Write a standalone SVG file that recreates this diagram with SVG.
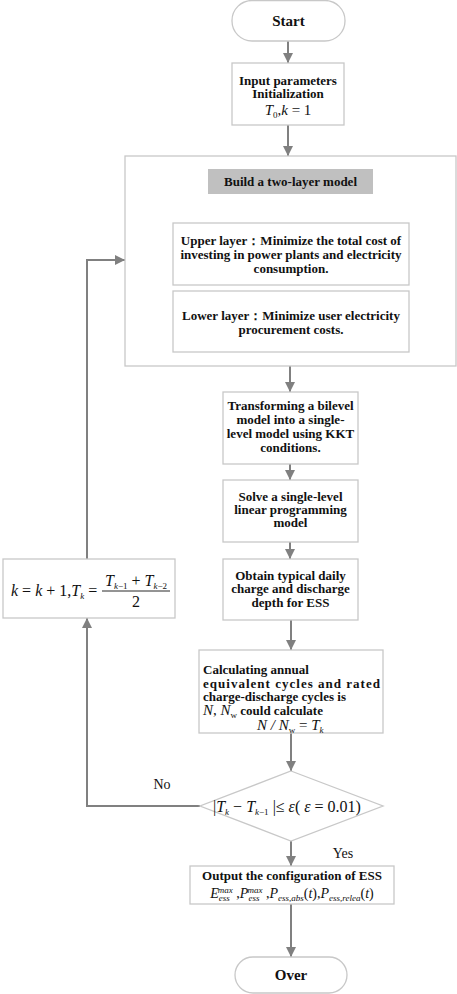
<svg xmlns="http://www.w3.org/2000/svg" width="457" height="994" viewBox="0 0 457 994">
<style>
.box{fill:#fff;stroke:#c8c8c8;stroke-width:1.3}
.t{font-family:"Liberation Serif","DejaVu Serif",serif;font-weight:bold;font-size:13px;fill:#111;text-anchor:middle}
.m{font-family:"Liberation Serif","DejaVu Serif",serif;font-style:italic;font-size:15px;fill:#111}
.r{font-style:normal}
.s{font-size:9px}
.c{fill:none;stroke:#808080;stroke-width:2}
.lab{font-family:"Liberation Serif","DejaVu Serif",serif;font-size:14px;fill:#111}
</style>
<defs>
<marker id="ah" viewBox="0 0 10 10" refX="10" refY="5" markerWidth="10" markerHeight="10" markerUnits="userSpaceOnUse" orient="auto">
<path d="M0,0 L10,5 L0,10 z" fill="#808080"/>
</marker>
</defs>
<rect width="457" height="994" fill="#fff"/>
<g id="connectors">
<line class="c" x1="288" y1="41" x2="288" y2="63" marker-end="url(#ah)"/>
<line class="c" x1="288" y1="125" x2="288" y2="156" marker-end="url(#ah)"/>
<line class="c" x1="290" y1="366" x2="290" y2="392" marker-end="url(#ah)"/>
<line class="c" x1="290" y1="464" x2="290" y2="480" marker-end="url(#ah)"/>
<line class="c" x1="290" y1="542" x2="290" y2="559" marker-end="url(#ah)"/>
<line class="c" x1="291" y1="620" x2="291" y2="650" marker-end="url(#ah)"/>
<line class="c" x1="291" y1="733" x2="291" y2="771" marker-end="url(#ah)"/>
<line class="c" x1="291" y1="841" x2="291" y2="866" marker-end="url(#ah)"/>
<line class="c" x1="291" y1="904" x2="291" y2="957" marker-end="url(#ah)"/>
<polyline class="c" points="200,806 87,806 87,618" marker-end="url(#ah)"/>
<polyline class="c" points="87,559 87,260 125,260" marker-end="url(#ah)"/>
<text class="lab" x="162" y="789" text-anchor="middle">No</text>
<text class="lab" x="343" y="858" text-anchor="middle">Yes</text>
</g>
<g id="start">
<rect class="box" x="232" y="0.5" width="113" height="40.5" rx="20"/>
<text class="t" x="288.5" y="26" style="font-size:15px">Start</text>
</g>
<g id="input">
<rect class="box" x="232" y="63" width="112" height="62"/>
<text class="t" x="288" y="85">Input parameters</text>
<text class="t" x="288" y="98">Initialization</text>
<text class="m" x="288" y="115" text-anchor="middle">T<tspan class="s r" dy="3">0</tspan><tspan dy="-3" class="r">,</tspan>k<tspan class="r"> = 1</tspan></text>
</g>
<g id="twolayer">
<rect class="box" x="125" y="156" width="331" height="210"/>
<rect x="208" y="169" width="165" height="25" fill="#c0c0c0"/>
<text class="t" x="290.5" y="186">Build a two-layer model</text>
</g>
<g id="upper">
<rect class="box" x="173" y="223" width="236" height="62"/>
<text class="t" x="291" y="245">Upper layer：Minimize the total cost of</text>
<text class="t" x="291" y="259">investing in power plants and electricity</text>
<text class="t" x="291" y="273">consumption.</text>
</g>
<g id="lower">
<rect class="box" x="173" y="291" width="236" height="61"/>
<text class="t" x="291" y="320">Lower layer：Minimize user electricity</text>
<text class="t" x="291" y="334">procurement costs.</text>
</g>
<g id="transform">
<rect class="box" x="223" y="392" width="135" height="72"/>
<text class="t" x="290.5" y="410">Transforming a bilevel</text>
<text class="t" x="290.5" y="424">model into a single-</text>
<text class="t" x="290.5" y="438">level model using KKT</text>
<text class="t" x="290.5" y="452">conditions.</text>
</g>
<g id="solve">
<rect class="box" x="223" y="480" width="135" height="62"/>
<text class="t" x="290.5" y="501">Solve a single-level</text>
<text class="t" x="290.5" y="514">linear programming</text>
<text class="t" x="290.5" y="527">model</text>
</g>
<g id="obtain">
<rect class="box" x="223" y="559" width="135" height="61"/>
<text class="t" x="290.5" y="580">Obtain typical daily</text>
<text class="t" x="290.5" y="593">charge and discharge</text>
<text class="t" x="290.5" y="607">depth for ESS</text>
</g>
<g id="calc">
<rect class="box" x="199" y="650" width="184" height="83"/>
<text class="t" x="203" y="674" style="text-anchor:start">Calculating annual</text>
<text class="t" x="203" y="688" style="text-anchor:start" textLength="177" lengthAdjust="spacing">equivalent cycles and rated</text>
<text class="t" x="203" y="701" style="text-anchor:start">charge-discharge cycles is</text>
<text x="203" y="715"><tspan class="m">N</tspan><tspan class="m r">, </tspan><tspan class="m">N</tspan><tspan class="m s r" dy="3">w</tspan><tspan class="t" dy="-3" style="text-anchor:start"> could calculate</tspan></text>
<text class="m" x="257" y="730">N / N<tspan class="s r" dy="3">w</tspan><tspan dy="-3" class="r"> = </tspan>T<tspan class="s" dy="3">k</tspan></text>
</g>
<g id="loop">
<rect class="box" x="3" y="559" width="172" height="59"/>
<text class="m" x="11" y="596" style="font-size:16px">k<tspan class="r"> = </tspan>k<tspan class="r"> + 1,</tspan>T<tspan class="s" dy="3">k</tspan><tspan class="r" dy="-3"> =</tspan></text>
<line x1="102" y1="591" x2="170" y2="591" stroke="#111" stroke-width="0.9"/>
<text class="m" x="136" y="586" text-anchor="middle" style="font-size:16px">T<tspan class="s" dy="3">k</tspan><tspan class="s r">−1</tspan><tspan class="r" dy="-3"> + </tspan>T<tspan class="s" dy="3">k</tspan><tspan class="s r">−2</tspan></text>
<text class="m r" x="136" y="607" text-anchor="middle" style="font-size:16px">2</text>
</g>
<g id="decision">
<polygon class="box" points="291,771 383,806 291,841 200,806"/>
<text class="m" x="213" y="812" style="font-size:16px"><tspan class="r">|</tspan>T<tspan class="s" dy="3">k</tspan><tspan class="r" dy="-3"> − </tspan>T<tspan class="s" dy="3">k</tspan><tspan class="s r">−1</tspan><tspan class="r" dy="-3"> |≤ </tspan>ε<tspan class="r">( </tspan>ε<tspan class="r"> = 0.01)</tspan></text>
</g>
<g id="output">
<rect class="box" x="190" y="866" width="204" height="38"/>
<text class="t" x="292" y="880">Output the configuration of ESS</text>
<text class="m" x="292" y="898" text-anchor="middle" style="font-size:14px">E<tspan class="s" dy="3">ess</tspan><tspan class="s" dx="-12" dy="-8">max</tspan><tspan class="r" dy="5"> ,</tspan>P<tspan class="s" dy="3">ess</tspan><tspan class="s" dx="-12" dy="-8">max</tspan><tspan class="r" dy="5"> ,</tspan>P<tspan class="s" dy="3">ess,abs</tspan><tspan class="r" dy="-3">(</tspan>t<tspan class="r">),</tspan>P<tspan class="s" dy="3">ess,relea</tspan><tspan class="r" dy="-3">(</tspan>t<tspan class="r">)</tspan></text>
</g>
<g id="over">
<rect class="box" x="235" y="957" width="112" height="36" rx="18"/>
<text class="t" x="291" y="980" style="font-size:15px">Over</text>
</g>
</svg>
